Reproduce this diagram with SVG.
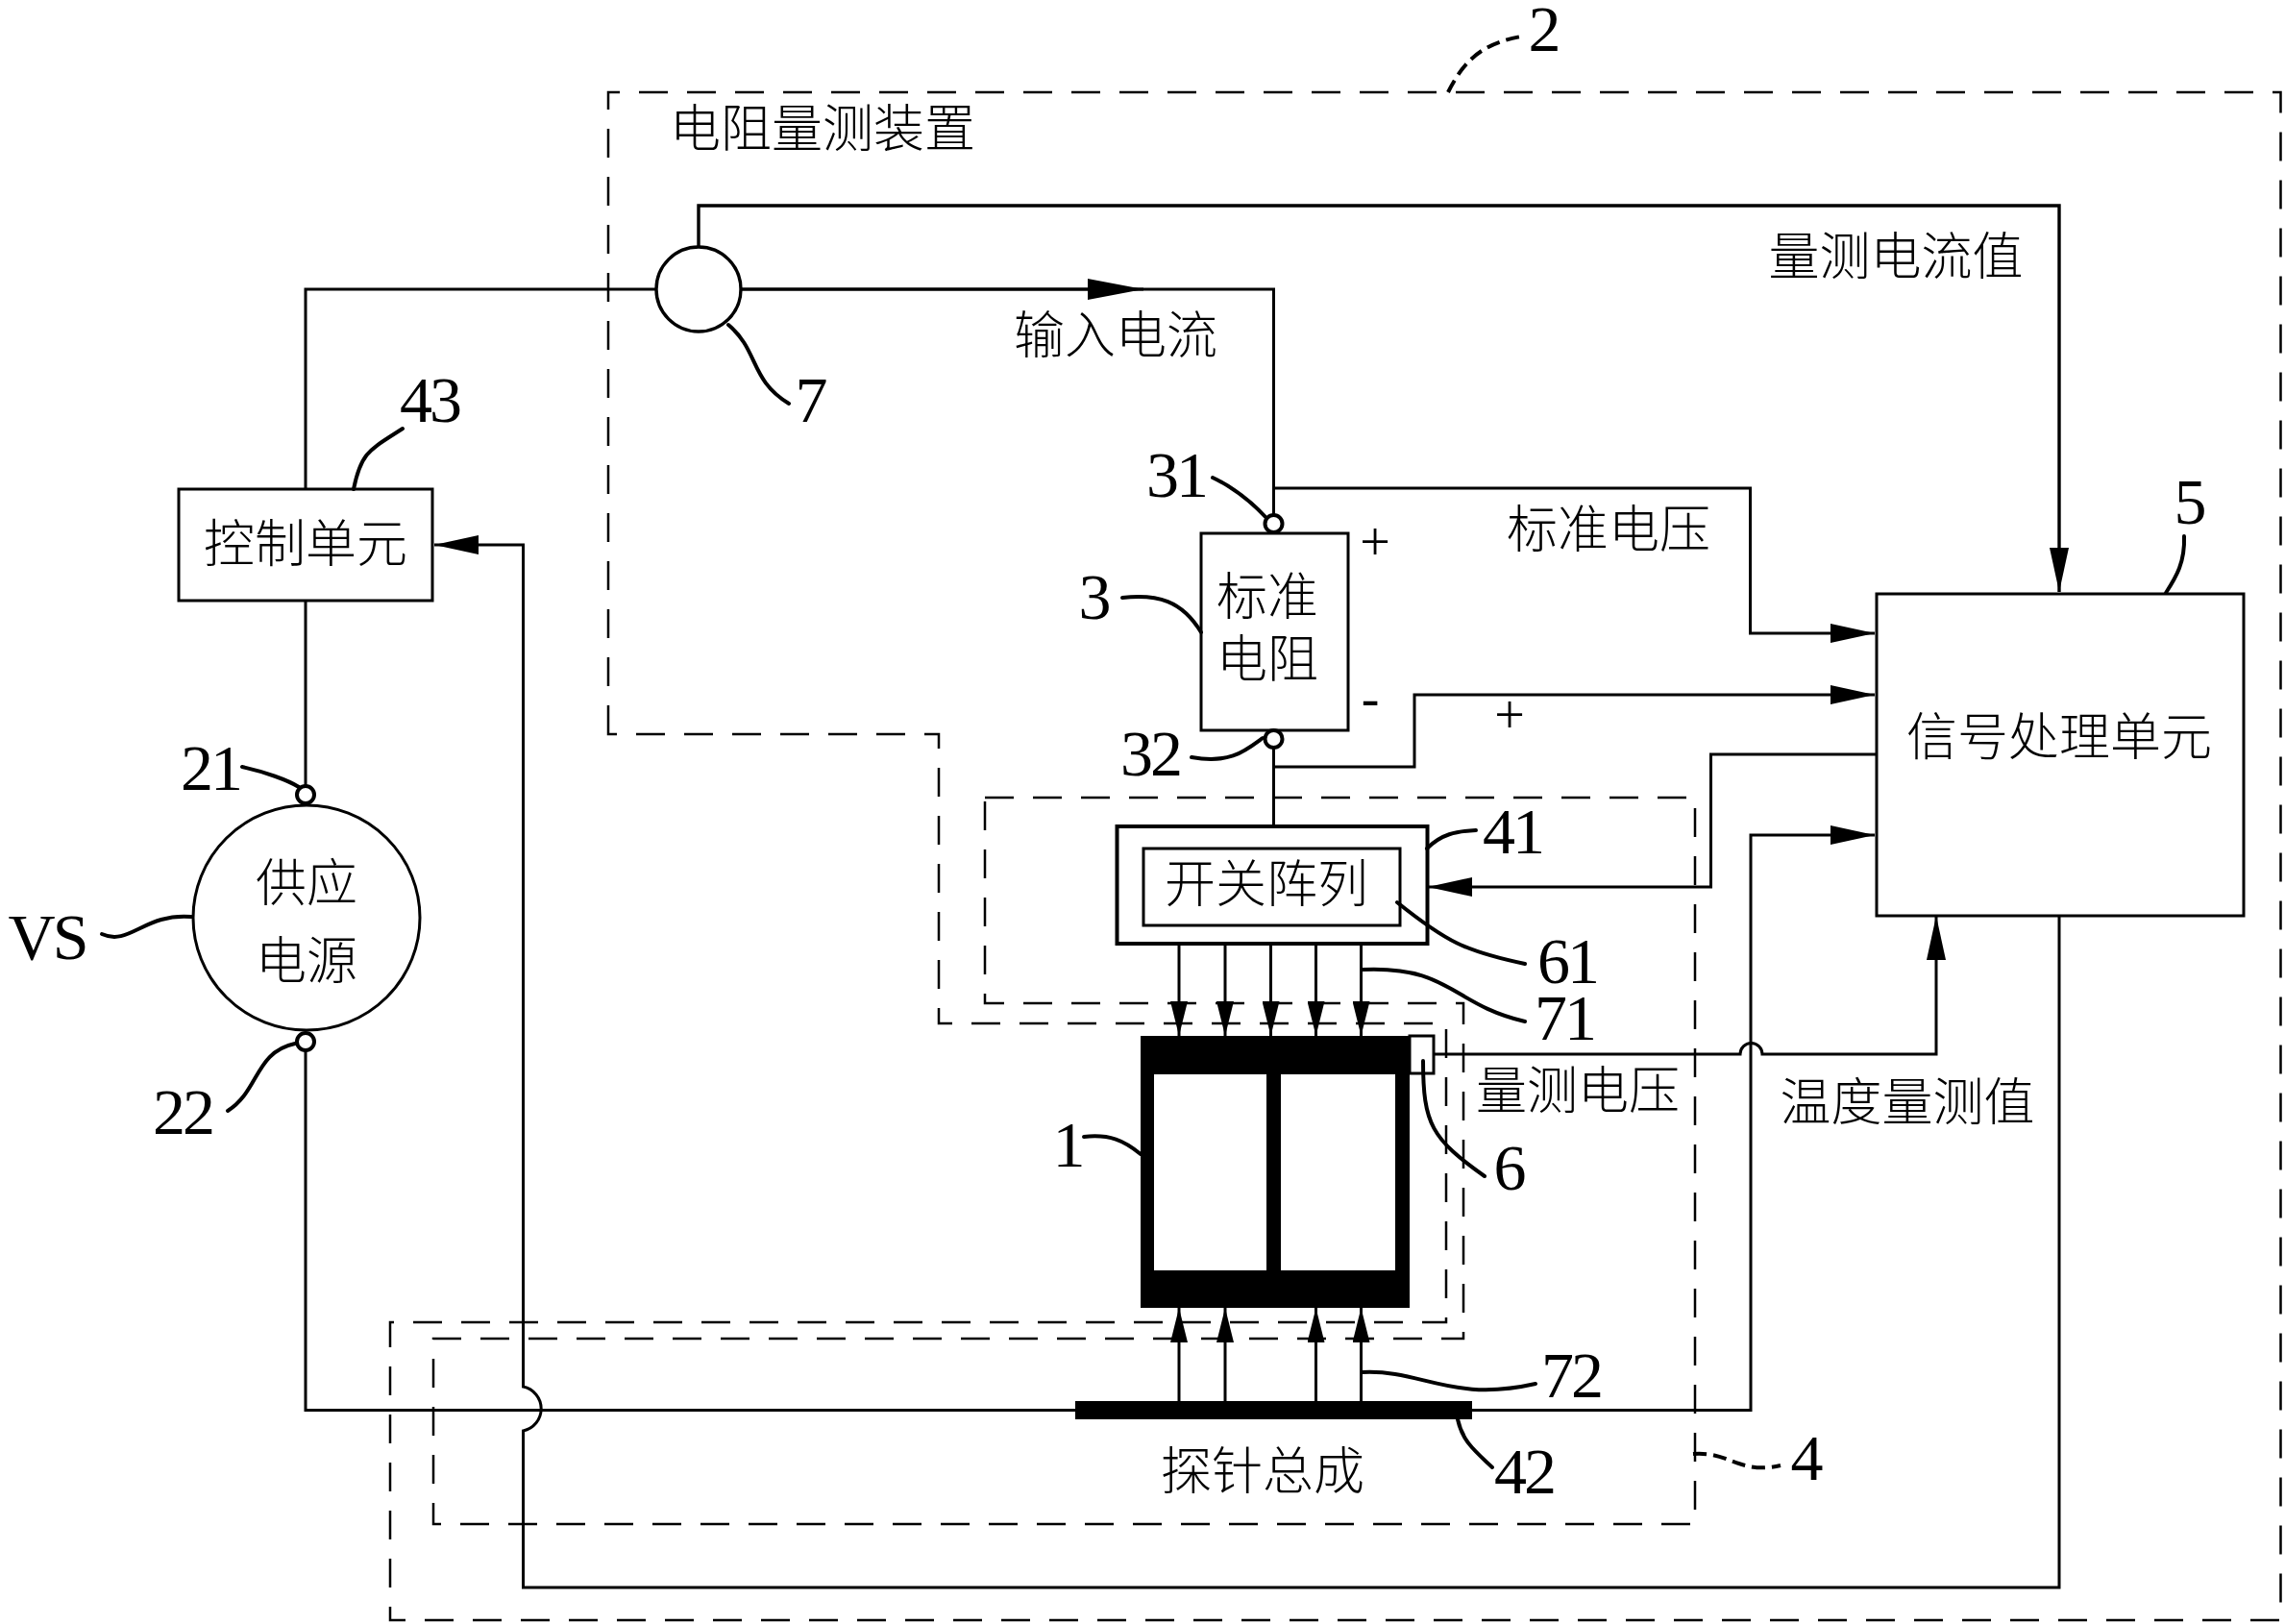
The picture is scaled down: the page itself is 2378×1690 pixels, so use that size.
<svg xmlns="http://www.w3.org/2000/svg" width="2378" height="1690" viewBox="0 0 2378 1690">
<style>
.w{fill:none;stroke:#000;stroke-width:3}
.t{fill:none;stroke:#000;stroke-width:3.4}
.d{fill:none;stroke:#000;stroke-width:2.5;stroke-dasharray:30 20}
.b{fill:#fff;stroke:#000;stroke-width:3}
.l{fill:none;stroke:#000;stroke-width:4;stroke-linecap:round}
.ld{fill:none;stroke:#000;stroke-width:4;stroke-dasharray:14 7}
.c{font-family:"Noto Sans CJK SC","Noto Sans CJK TC",sans-serif;font-size:53px;font-weight:300;text-anchor:middle;fill:#000}
.n{font-family:"Liberation Serif",serif;font-size:68px;text-anchor:middle;fill:#000;letter-spacing:-3px}
.s{font-family:"Liberation Serif",serif;font-size:56px;text-anchor:middle;fill:#000}
</style>
<defs>
<marker id="a" markerUnits="userSpaceOnUse" markerWidth="48" markerHeight="20" refX="46" refY="10" orient="auto"><path d="M0 0L46 10L0 20Z" fill="#000"/></marker>
<marker id="a3" markerUnits="userSpaceOnUse" markerWidth="60" markerHeight="24" refX="58" refY="12" orient="auto"><path d="M0 1L58 12L0 23Z" fill="#000"/></marker>
<marker id="a2" markerUnits="userSpaceOnUse" markerWidth="38" markerHeight="18" refX="36" refY="9" orient="auto"><path d="M0 0L36 9L0 18Z" fill="#000"/></marker>
</defs>
<rect width="2378" height="1690" fill="#fff"/>
<g id="dashed-boundaries">
<path class="d" d="M633 764V96H2373.5V1686H406V1376H1505V1065H977V764Z"/>
<path class="d" d="M1025 830H1764V1586H451V1393H1523V1044H1025Z"/>
</g>
<g id="connectors">
<path class="w" d="M318 509V301H683"/>
<path class="w" d="M771 301H1325.5V535"/>
<path class="w" d="M771 301H1190" marker-end="url(#a3)"/>
<path class="t" d="M727 257V214H2143V616" marker-end="url(#a)"/>
<path class="w" d="M318 625V817"/>
<path class="w" d="M318 1094V1467.5H1119"/>
<path class="w" d="M1532 1467.500H1822V869H1951" marker-end="url(#a)"/>
<path class="w" d="M2143 953V1652H544.5V1489A23.500 23.500 0 0 0 544.5 1443V567H452" marker-end="url(#a)"/>
<path class="w" d="M1325.5 508H1821.5V659H1951" marker-end="url(#a)"/>
<path class="w" d="M1325.5 798H1472V723H1951" marker-end="url(#a)"/>
<path class="w" d="M1325.5 779V860"/>
<path class="w" d="M1953 785H1780.5V923H1486" marker-end="url(#a)"/>
<path class="w" d="M1492 1097H1811A11.5 11.5 0 0 1 1834 1097H2015V953" marker-end="url(#a)"/>
<path class="w" d="M1227 982V1078" marker-end="url(#a2)"/>
<path class="w" d="M1275 982V1078" marker-end="url(#a2)"/>
<path class="w" d="M1322.5 982V1078" marker-end="url(#a2)"/>
<path class="w" d="M1369.5 982V1078" marker-end="url(#a2)"/>
<path class="w" d="M1416.5 982V1078" marker-end="url(#a2)"/>
<path class="w" d="M1227 1458V1361" marker-end="url(#a2)"/>
<path class="w" d="M1275 1458V1361" marker-end="url(#a2)"/>
<path class="w" d="M1369.5 1458V1361" marker-end="url(#a2)"/>
<path class="w" d="M1416.5 1458V1361" marker-end="url(#a2)"/>
</g>
<g id="current-sensor"><circle class="t" cx="727" cy="301" r="44"/></g>
<g id="control-unit"><rect class="b" x="186" y="509" width="264" height="116"/><text class="c" x="318" y="585">控制单元</text></g>
<g id="power-supply"><ellipse class="b" cx="319" cy="955" rx="118" ry="117"/><text class="c" x="319" y="938">供应</text><text class="c" x="319" y="1019">电源</text>
<circle class="b" cx="318" cy="827" r="9" style="stroke-width:4"/><circle class="b" cx="318" cy="1084" r="9" style="stroke-width:4"/></g>
<g id="standard-resistor"><rect class="b" x="1250" y="555" width="153" height="205"/><text class="c" x="1319" y="640">标准</text><text class="c" x="1319" y="705">电阻</text>
<circle class="b" cx="1325.5" cy="545" r="9" style="stroke-width:4"/><circle class="b" cx="1325.5" cy="769" r="9" style="stroke-width:4"/></g>
<g id="signal-unit"><rect class="b" x="1953" y="618" width="382" height="335"/><text class="c" x="2143" y="786">信号处理单元</text></g>
<g id="switch-array"><rect class="b" x="1162.5" y="860" width="323" height="122" style="stroke-width:4"/><rect class="b" x="1190" y="883" width="267" height="80"/><text class="c" x="1318" y="939">开关阵列</text></g>
<g id="device-under-test"><path fill="#000" fill-rule="evenodd" d="M1187 1078H1467V1361H1187ZM1201 1118V1322H1318V1118ZM1333 1118V1322H1452V1118Z"/></g>
<g id="temp-sensor"><rect class="b" x="1467" y="1078" width="25" height="39"/></g>
<g id="probe-bar"><rect x="1119" y="1458" width="413" height="19" fill="#000"/></g>
<g id="leaders">
<path class="ld" d="M1507 96C1525 60 1545 45 1583 38"/>
<path class="l" d="M368 509C376 470 385 468 419 446"/>
<path class="l" d="M758 338C790 365 780 395 821 420"/>
<path class="l" d="M252 798C275 803 300 812 311 819"/>
<path class="l" d="M106 972C135 985 150 950 199 954"/>
<path class="l" d="M237 1156C270 1135 265 1095 307 1086"/>
<path class="l" d="M1262 497C1285 508 1305 525 1318 539"/>
<path class="l" d="M1168 622C1205 618 1230 625 1250 658"/>
<path class="l" d="M1240 788C1280 795 1295 782 1314 768"/>
<path class="l" d="M2273 558C2274 585 2265 600 2254 617"/>
<path class="l" d="M1485 883C1500 868 1515 865 1536 864"/>
<path class="l" d="M1454 939C1505 980 1525 990 1587 1003"/>
<path class="l" d="M1418 1009C1510 1005 1510 1045 1587 1063"/>
<path class="l" d="M1481 1104C1481 1170 1490 1185 1545 1224"/>
<path class="l" d="M1418 1428C1480 1425 1510 1460 1598 1440"/>
<path class="l" d="M1517 1477C1522 1500 1535 1510 1553 1527"/>
<path class="ld" d="M1762 1513C1800 1510 1810 1535 1853 1525"/>
<path class="l" d="M1128 1183C1155 1180 1170 1187 1187 1201"/>
</g>
<g id="labels">
<text class="c" x="856" y="153">电阻量测装置</text>
<text class="c" x="1973" y="286">量测电流值</text>
<text class="c" x="1161" y="368">输入电流</text>
<text class="c" x="1674" y="570">标准电压</text>
<text class="c" x="1642" y="1154">量测电压</text>
<text class="c" x="1985" y="1166">温度量测值</text>
<text class="c" x="1314" y="1550">探针总成</text>
<text class="n" x="1606" y="53">2</text>
<text class="n" x="447" y="439">43</text>
<text class="n" x="843" y="439">7</text>
<text class="n" x="219" y="822">21</text>
<text class="n" x="49" y="998">VS</text>
<text class="n" x="190" y="1180">22</text>
<text class="n" x="1224" y="517">31</text>
<text class="n" x="1138" y="644">3</text>
<text class="n" x="1197" y="807">32</text>
<text class="n" x="2278" y="545">5</text>
<text class="n" x="1574" y="888">41</text>
<text class="n" x="1631" y="1023">61</text>
<text class="n" x="1628" y="1082">71</text>
<text class="n" x="1570" y="1238">6</text>
<text class="n" x="1635" y="1454">72</text>
<text class="n" x="1586" y="1554">42</text>
<text class="n" x="1879" y="1540">4</text>
<text class="n" x="1111" y="1214">1</text>
<text class="s" x="1431" y="583">+</text>
<text class="s" x="1426" y="745">-</text>
<text class="s" x="1571" y="763">+</text>
</g>
</svg>
